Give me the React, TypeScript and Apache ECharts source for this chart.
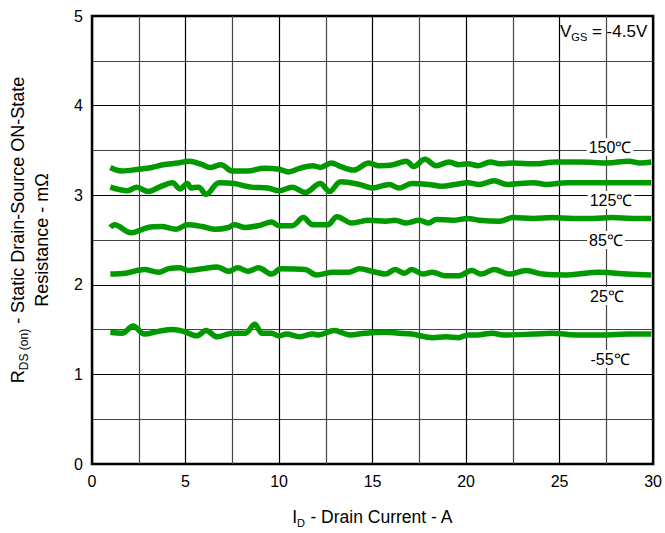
import React, { useEffect, useRef } from "react";
import * as echarts from "echarts";

// On-resistance vs drain current, one curve per junction temperature ([I_D (A), R (mΩ)])
const curve150: [number, number][] = [
  [0.98, 3.31], [1.6, 3.27], [2.5, 3.29], [3.2, 3.31], [3.8, 3.34], [4.6, 3.36], [5.2, 3.38],
  [5.9, 3.34], [6.3, 3.31], [6.9, 3.34], [7.5, 3.27], [8.3, 3.27], [9.2, 3.3], [10.0, 3.29],
  [10.5, 3.26], [11.1, 3.3], [11.8, 3.33], [12.2, 3.31], [12.8, 3.36], [13.3, 3.32], [14.0, 3.28],
  [14.8, 3.36], [15.3, 3.33], [16.1, 3.34], [16.8, 3.38], [17.2, 3.32], [17.8, 3.4], [18.4, 3.33],
  [19.1, 3.37], [19.6, 3.34], [20.1, 3.35], [20.65, 3.33], [21.3, 3.37], [21.8, 3.35], [22.5, 3.36],
  [23.6, 3.35], [24.8, 3.37], [26.2, 3.37], [27.5, 3.36], [28.7, 3.38], [29.3, 3.36], [29.9, 3.37],
];

const curve125: [number, number][] = [
  [0.98, 3.09], [1.9, 3.05], [2.4, 3.09], [3.0, 3.04], [3.6, 3.09], [4.3, 3.14], [4.7, 3.07],
  [5.1, 3.13], [5.3, 3.08], [5.7, 3.09], [6.1, 3.01], [6.8, 3.14], [7.6, 3.13], [8.5, 3.09],
  [9.4, 3.08], [10.0, 3.05], [10.7, 3.09], [11.4, 3.03], [12.2, 3.13], [12.7, 3.04], [13.3, 3.15],
  [14.3, 3.12], [15.0, 3.08], [15.9, 3.12], [16.4, 3.08], [17.1, 3.13], [18.0, 3.12], [18.7, 3.1],
  [19.4, 3.12], [20.1, 3.14], [20.7, 3.12], [21.5, 3.16], [22.2, 3.12], [23.6, 3.14], [24.3, 3.12],
  [25.4, 3.14], [27.1, 3.14], [28.6, 3.14], [29.9, 3.14],
];

const curve85: [number, number][] = [
  [0.98, 2.64], [1.2, 2.67], [2.1, 2.58], [3.0, 2.64], [3.7, 2.65], [4.5, 2.62], [5.1, 2.67],
  [5.9, 2.65], [6.6, 2.62], [7.3, 2.64], [7.6, 2.67], [8.2, 2.64], [8.9, 2.66], [9.6, 2.7],
  [10.0, 2.66], [10.7, 2.66], [11.3, 2.75], [11.8, 2.67], [12.6, 2.67], [13.1, 2.76], [13.9, 2.69],
  [14.8, 2.72], [15.7, 2.71], [16.2, 2.72], [16.8, 2.69], [17.5, 2.72], [18.0, 2.69], [18.4, 2.73],
  [19.3, 2.72], [20.1, 2.74], [20.7, 2.72], [21.8, 2.71], [22.5, 2.75], [23.6, 2.74], [24.6, 2.75],
  [25.7, 2.74], [26.8, 2.74], [27.8, 2.75], [28.9, 2.74], [29.9, 2.74],
];

const curve25: [number, number][] = [
  [0.98, 2.12], [1.8, 2.13], [2.8, 2.17], [3.55, 2.14], [4.1, 2.18], [4.7, 2.19], [5.15, 2.16],
  [5.9, 2.18], [6.7, 2.2], [7.3, 2.15], [7.8, 2.19], [8.35, 2.15], [8.9, 2.19], [9.6, 2.12],
  [10.1, 2.18], [11.4, 2.17], [12.0, 2.11], [12.9, 2.14], [13.75, 2.14], [14.3, 2.18], [15.0, 2.15],
  [15.7, 2.12], [16.2, 2.17], [16.7, 2.13], [17.1, 2.17], [17.7, 2.12], [18.2, 2.14], [18.9, 2.1],
  [19.6, 2.1], [20.3, 2.16], [20.8, 2.12], [21.5, 2.17], [22.3, 2.12], [23.2, 2.16], [24.1, 2.12],
  [25.4, 2.11], [27.1, 2.14], [28.6, 2.12], [29.9, 2.11],
];

const curveM55: [number, number][] = [
  [0.98, 1.47], [1.6, 1.46], [2.2, 1.54], [2.8, 1.45], [3.55, 1.48], [4.3, 1.5], [4.9, 1.48],
  [5.6, 1.43], [6.1, 1.49], [6.7, 1.42], [7.5, 1.46], [8.2, 1.46], [8.7, 1.56], [9.1, 1.46],
  [9.6, 1.46], [10.0, 1.43], [10.4, 1.45], [11.1, 1.42], [11.8, 1.45], [12.1, 1.44], [12.95, 1.49],
  [13.8, 1.44], [14.6, 1.46], [15.7, 1.47], [16.4, 1.46], [17.1, 1.45], [18.2, 1.41], [18.9, 1.42],
  [19.6, 1.41], [20.1, 1.44], [20.6, 1.44], [21.4, 1.46], [22.0, 1.44], [23.6, 1.45], [24.6, 1.46],
  [25.9, 1.44], [27.5, 1.44], [28.6, 1.45], [29.9, 1.45],
];

const seriesNames = ["150℃", "125℃", "85℃", "25℃", "-55℃"];
const seriesData = [curve150, curve125, curve85, curve25, curveM55];

const FONT = "'Liberation Sans', Arial, sans-serif";
const GREEN = "#009900";

export default function App() {
  const ref = useRef<HTMLDivElement>(null);

  useEffect(() => {
    if (!ref.current) return;
    const chart = echarts.init(ref.current, undefined, { renderer: "svg" });

    // temperature tags sit at the right-hand end of each curve
    const labelPos: [number, number][] = [
      [610, 147],
      [611, 200],
      [606, 240],
      [607, 296],
      [610, 359],
    ];

    chart.setOption({
      animation: false,
      backgroundColor: "#fff",
      textStyle: { fontFamily: FONT },
      grid: {
        left: 92,
        top: 16,
        right: 10,
        bottom: 66,
        show: true,
        borderColor: "#000",
        borderWidth: 2.5,
        backgroundColor: "transparent",
      },
      xAxis: {
        type: "value",
        min: 0,
        max: 30,
        interval: 5,
        axisLine: { show: false },
        axisTick: { show: false },
        axisLabel: { fontSize: 16, color: "#000", margin: 9, fontFamily: FONT },
        splitLine: { show: true, lineStyle: { color: "#000", width: 1.2 } },
        minorTick: { show: false, splitNumber: 2 },
        minorSplitLine: { show: true, lineStyle: { color: "#444", width: 1.2 } },
        name: "{t|I}{s|D}{t| - Drain Current - A}",
        nameLocation: "middle",
        nameGap: 42,
        nameTextStyle: {
          rich: {
            t: { fontSize: 17.5, lineHeight: 22, color: "#000", fontFamily: FONT },
            s: { fontSize: 11, lineHeight: 12, color: "#000", fontFamily: FONT, verticalAlign: "bottom" },
          },
        },
      },
      yAxis: {
        type: "value",
        min: 0,
        max: 5,
        interval: 1,
        axisLine: { show: false },
        axisTick: { show: false },
        axisLabel: { fontSize: 16, color: "#000", margin: 9, fontFamily: FONT },
        splitLine: { show: true, lineStyle: { color: "#000", width: 1.2 } },
        minorTick: { show: false, splitNumber: 2 },
        minorSplitLine: { show: true, lineStyle: { color: "#444", width: 1.2 } },
        name:
          "{r|R}{s|DS (on)}{t| - Static Drain-Source ON-State}\n{t|Resistance - mΩ}",
        nameLocation: "middle",
        nameRotate: 90,
        nameGap: 38,
        nameTextStyle: {
          align: "center",
          rich: {
            r: { fontSize: 18, lineHeight: 24, color: "#000", fontFamily: FONT, padding: [0, 0, 0, 20] },
            t: { fontSize: 18, lineHeight: 24, color: "#000", fontFamily: FONT },
            s: { fontSize: 12, lineHeight: 13, color: "#000", fontFamily: FONT, verticalAlign: "bottom" },
          },
        },
      },
      series: seriesData.map((d, i) => ({
        name: seriesNames[i],
        type: "line",
        data: d,
        smooth: 0.35,
        showSymbol: false,
        lineStyle: { color: GREEN, width: 5.5 },
        z: 3,
      })),
      graphic: [
        ...seriesNames.map((n, i) => ({
          type: "text",
          x: labelPos[i][0],
          y: labelPos[i][1],
          z: 10,
          style: {
            text: n,
            fontSize: 16,
            fontFamily: FONT,
            fill: "#000",
            align: "center",
            verticalAlign: "middle",
            backgroundColor: "#fff",
            padding: [1, 2],
          },
        })),
        {
          type: "text",
          x: 560,
          y: 31,
          z: 10,
          style: {
            text: "{t|V}{s|GS}{t| = -4.5V}",
            fontFamily: FONT,
            fill: "#000",
            align: "left",
            verticalAlign: "middle",
            rich: {
              t: { fontSize: 17, lineHeight: 22, fontFamily: FONT, fill: "#000" },
              s: { fontSize: 11, lineHeight: 12, fontFamily: FONT, fill: "#000", verticalAlign: "bottom" },
            },
          },
        },
      ],
    });

    return () => chart.dispose();
  }, []);

  return (
    <div
      ref={ref}
      style={{ position: "fixed", left: 0, top: 0, width: 665, height: 533, background: "#fff" }}
    />
  );
}
